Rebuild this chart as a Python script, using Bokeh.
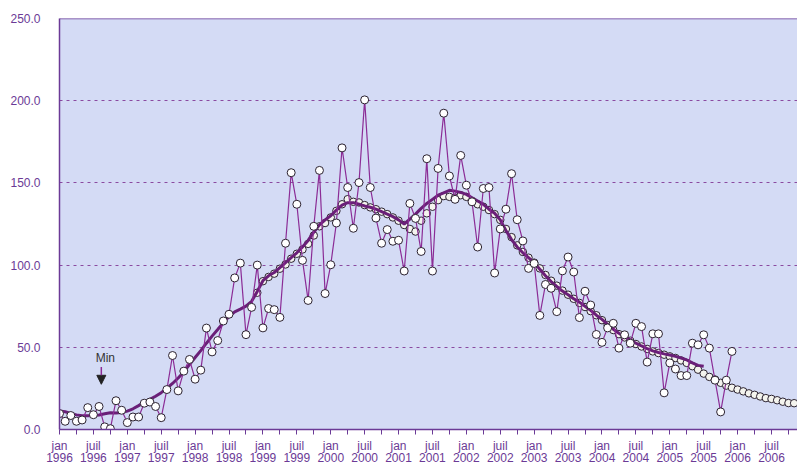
from bokeh.plotting import figure
from bokeh.models import (Range1d, FixedTicker, NumeralTickFormatter, Span, Label,
                          Arrow, NormalHead, ColumnDataSource)
from bokeh.embed import file_html
from bokeh.resources import INLINE

# ---------------- data ----------------
years = list(range(1996, 2007))
half_year_names = ["jan", "juil"]

# monthly values, jan 1996 -> dec 2005
monthly_start = 0
monthly = [9.7, 5.0, 8.5, 5.0, 5.8, 13.3, 9.0, 14.0, 1.6, 0.5, 17.5, 11.7,
           4.2, 7.6, 7.6, 16.0, 16.7, 14.0, 7.2, 24.3, 45.0, 23.5, 35.5, 42.6,
           30.6, 36.1, 61.7, 47.2, 54.1, 66.0, 70.1, 92.2, 101.2, 57.7, 74.3, 100.0,
           61.8, 73.6, 72.9, 68.2, 113.3, 156.2, 137.0, 102.9, 78.5, 123.6, 157.6, 82.7,
           100.2, 125.6, 171.3, 147.2, 122.4, 150.2, 200.5, 147.2, 128.6, 113.3, 121.6, 114.5,
           115.1, 96.4, 137.5, 128.4, 108.3, 164.7, 96.4, 158.8, 192.4, 154.2, 140.0, 166.7,
           148.6, 138.5, 111.0, 146.6, 147.2, 95.2, 122.0, 134.0, 155.6, 127.6, 114.7, 98.0,
           101.0, 69.4, 88.2, 85.9, 71.7, 96.5, 104.9, 95.8, 68.1, 84.1, 75.7, 57.8,
           53.0, 61.8, 64.6, 49.5, 57.6, 52.5, 64.6, 62.6, 41.0, 58.2, 58.2, 22.3,
           40.5, 36.8, 32.8, 32.8, 52.5, 51.5, 57.6, 49.5, 30.0, 10.7, 30.0, 47.5]

# smoothed series (thick line), jan 1996 -> jul 2005
smooth_start = 0
smooth = [11.3, 10.8, 9.8, 8.9, 8.4, 8.3, 8.5, 8.8, 9.6, 10.2, 10.0, 10.3,
          11.2, 12.6, 14.5, 16.5, 18.3, 20.2, 22.4, 25.0, 28.0, 31.3, 35.0, 39.5,
          43.8, 48.0, 52.5, 56.8, 60.8, 65.0, 68.7, 71.5, 73.2, 75.0, 78.0, 84.0,
          90.5, 93.5, 95.5, 98.5, 101.5, 104.5, 107.5, 111.0, 115.0, 120.0, 124.5, 127.5,
          130.0, 133.5, 136.5, 138.0, 138.0, 137.0, 136.0, 135.2, 134.0, 132.5, 131.0, 129.5,
          127.5, 125.0, 128.0, 131.0, 134.5, 137.5, 140.0, 142.5, 144.0, 145.5, 145.0, 144.2,
          143.0, 141.0, 139.0, 137.0, 134.0, 131.5, 127.5, 121.0, 115.5, 111.0, 107.5, 104.5,
          101.5, 97.5, 93.5, 90.0, 87.0, 84.2, 82.0, 79.5, 77.5, 75.0, 72.5, 69.5,
          67.0, 64.0, 61.0, 58.5, 56.3, 54.5, 52.5, 50.8, 49.2, 47.8, 46.8, 46.0,
          45.3, 44.5, 43.5, 42.3, 40.5, 39.0, 38.5]

# trend (circles without line), dec 1998 -> nov 2006
trend_start = 35
trend = [83.2,
         90.2, 92.8, 94.8, 97.8, 100.4, 103.9, 106.9, 109.5, 112.9, 118.0, 123.6, 125.6,
         129.0, 133.0, 137.0, 140.1, 138.5, 138.1, 136.5, 135.1, 134.0, 132.5, 131.0, 129.0,
         127.0, 124.4, 122.0, 120.4, 127.0, 131.5, 135.5, 139.5, 142.0, 141.5, 141.0, 142.5,
         141.5, 139.0, 137.0, 135.5, 133.5, 131.0, 127.5, 122.0, 117.0, 112.0, 108.0, 104.5,
         101.5, 98.0, 94.0, 90.5, 87.5, 84.5, 82.0, 79.5, 77.0, 74.5, 72.0, 69.5,
         66.5, 63.5, 60.5, 58.0, 56.0, 54.0, 52.0, 50.5, 49.0, 47.5, 46.5, 45.5,
         44.5, 43.5, 42.0, 40.5, 38.5, 36.4, 34.0, 32.0, 30.4, 28.4, 26.7, 25.4,
         24.3, 23.2, 22.0, 21.1, 20.1, 19.1, 18.6, 17.8, 16.9, 16.1, 16.0]

y_ticks = [0, 50, 100, 150, 200, 250]

# ---------------- styling ----------------
PURPLE = "#6B3A96"
LINE_PURPLE = "#8B2C96"
THICK_PURPLE = "#6A1F78"
BG = "#D4DBF5"
FONT = "Liberation Sans"

src_m = ColumnDataSource(dict(x=list(range(monthly_start, monthly_start + len(monthly))), y=monthly))
src_s = ColumnDataSource(dict(x=list(range(smooth_start, smooth_start + len(smooth))), y=smooth))
src_t = ColumnDataSource(dict(x=list(range(trend_start, trend_start + len(trend))), y=trend))

p = figure(width=797, height=468, output_backend="svg", toolbar_location=None,
           x_range=Range1d(0, 130.6), y_range=Range1d(0, 250),
           min_border_left=59, min_border_right=0, min_border_top=18, min_border_bottom=36)
p.background_fill_color = BG
p.border_fill_color = "white"
p.outline_line_color = None

# grid
p.xgrid.visible = False
p.ygrid.ticker = FixedTicker(ticks=[50, 100, 150, 200])
p.ygrid.grid_line_color = "#8A4AA0"
p.ygrid.grid_line_dash = "3 4"
p.ygrid.grid_line_width = 1
p.add_layout(Span(location=250, dimension="width", line_color=PURPLE, line_width=1.5))

# y axis
p.yaxis.ticker = FixedTicker(ticks=y_ticks)
p.yaxis.formatter = NumeralTickFormatter(format="0.0")
p.yaxis.major_tick_out = 0
p.yaxis.major_tick_in = 0
p.yaxis.minor_tick_out = 0
p.yaxis.minor_tick_in = 0
p.yaxis.axis_line_color = PURPLE
p.yaxis.axis_line_width = 1.5
p.yaxis.major_label_standoff = 19
p.yaxis.major_label_text_font = FONT
p.yaxis.major_label_text_font_size = "12px"
p.yaxis.major_label_text_color = PURPLE

# x axis
last_month = 130
x_ticks = list(range(0, last_month, 3))
overrides = {}
for t in x_ticks:
    if t % 6 == 0:
        overrides[t] = f"{half_year_names[(t // 6) % 2]}\n{years[t // 12]}"
    else:
        overrides[t] = ""
p.xaxis.ticker = FixedTicker(ticks=x_ticks)
p.xaxis.major_label_overrides = overrides
p.xaxis.major_tick_out = 5
p.xaxis.major_tick_in = 0
p.xaxis.minor_tick_out = 0
p.xaxis.minor_tick_in = 0
p.xaxis.major_tick_line_color = PURPLE
p.xaxis.axis_line_color = PURPLE
p.xaxis.axis_line_width = 1.5
p.xaxis.major_label_standoff = 4
p.xaxis.major_label_text_font = FONT
p.xaxis.major_label_text_font_size = "12px"
p.xaxis.major_label_text_color = PURPLE
p.xaxis.major_label_text_line_height = 0.92

# glyphs
p.scatter("x", "y", source=src_t, size=7.5, fill_color="#F4F4EE", line_color="#2B2230", line_width=1)
p.line("x", "y", source=src_s, line_color=THICK_PURPLE, line_width=3)
p.line("x", "y", source=src_m, line_color=LINE_PURPLE, line_width=1.2)
p.scatter("x", "y", source=src_m, size=8, fill_color="white", line_color="#2B2230", line_width=1)

# "Min" annotation
p.add_layout(Label(x=6.4, y=39, text="Min", text_font=FONT, text_font_size="12px",
                   text_color="#333333", text_baseline="bottom", text_align="left"))
p.add_layout(Arrow(end=NormalHead(size=9, fill_color="#222222", line_color="#222222"),
                   x_start=7.4, y_start=38, x_end=7.4, y_end=27.5,
                   line_color=LINE_PURPLE, line_width=1.5))

open("out.html", "w").write(file_html(p, INLINE))
